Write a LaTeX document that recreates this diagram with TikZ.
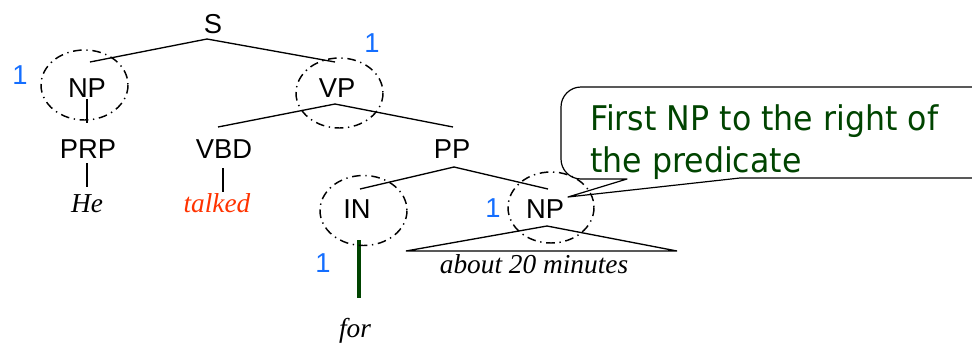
\documentclass[tikz,border=0pt]{standalone}
\usepackage{fontspec}
\setmainfont{Liberation Serif}
\setsansfont{Liberation Sans}
\newfontfamily\callfont[FakeStretch=0.93]{DejaVu Sans}
\usetikzlibrary{calc}
\definecolor{oneblue}{RGB}{20,110,255}
\definecolor{wordred}{RGB}{255,51,0}
\definecolor{callgreen}{RGB}{0,68,0}
\tikzset{
  lab/.style={font=\sffamily\fontsize{20.5pt}{24pt}\selectfont, inner sep=0pt, anchor=base},
  word/.style={font=\rmfamily\itshape\fontsize{20.5pt}{24pt}\selectfont, inner sep=0pt, anchor=base},
  one/.style={font=\sffamily\fontsize{20.5pt}{24pt}\selectfont, text=oneblue, inner sep=0pt, anchor=base},
  br/.style={line width=1pt, black},
  dd/.style={line width=1.1pt, dash pattern=on 6.5pt off 3.5pt on 1pt off 3.5pt},
}
\begin{document}
\begin{tikzpicture}[x=0.75pt,y=-0.75pt]
\useasboundingbox (0,0) rectangle (972,344);
% labels
\node[lab] (S) at (213,33) {S};
\node[lab] (NPa) at (87,97) {NP};
\node[lab] (VP) at (337,97) {VP};
\node[lab] (PRP) at (88,158) {PRP};
\node[lab] (VBD) at (224,158) {VBD};
\node[lab] (PP) at (452,158) {PP};
\node[lab] (IN) at (357,218) {IN};
\node[lab] (NPb) at (545,218) {NP};
% words
\node[word] (he) at (87,212) {He};
\node[word, text=wordred] (talked) at (217,212) {talked};
\node[word] (for) at (355,337) {for};
\node[word] (about) at (534,273) {about 20 minutes};
% blue ones
\node[one] (oa) at (20,84) {1};
\node[one] (ob) at (372,52) {1};
\node[one] (oc) at (323,272) {1};
\node[one] (od) at (493,217) {1};
% edges
\draw[br] ($(S.base)+(-6,6)$) -- ($(NPa.base)+(3,-35)$);
\draw[br] ($(S.base)+(-6,6)$) -- ($(VP.base)+(-2,-35)$);
\draw[br] ($(NPa.base)+(0,2)$) -- ($(PRP.base)+(-1,-35)$);
\draw[br] ($(VP.base)+(-2,7)$) -- ($(VBD.base)+(-6,-31)$);
\draw[br] ($(VP.base)+(-2,7)$) -- ($(PP.base)+(1,-31)$);
\draw[br] ($(PRP.base)+(-1,5)$) -- ($(he.base)+(0,-25)$);
\draw[br] ($(VBD.base)+(-1,10)$) -- ($(talked.base)+(6,-20)$);
\draw[br] ($(PP.base)+(2,9)$) -- ($(IN.base)+(3,-29)$);
\draw[br] ($(PP.base)+(2,9)$) -- ($(NPb.base)+(3,-29)$);
\draw[line width=2.4pt, callgreen] ($(IN.base)+(2,22)$) -- ($(for.base)+(4,-39)$);
\draw[br] ($(NPb.base)+(2,8)$) -- ($(about.base)+(-128,-22)$) -- ($(about.base)+(143,-22)$) -- cycle;
% dash-dot ellipses
\draw[dd] ($(NPa.base)+(-2.5,-12)$) ellipse [x radius=43.5, y radius=35];
\draw[dd] ($(VP.base)+(2.5,-4)$) ellipse [x radius=43.5, y radius=35];
\draw[dd] ($(IN.base)+(6.5,-7.5)$) ellipse [x radius=43.5, y radius=35];
\draw[dd] ($(NPb.base)+(6,-10.5)$) ellipse [x radius=43, y radius=35.5];
% callout
\coordinate (tip) at ($(NPb.base)+(23,-21)$);
\draw[line width=0.9pt, line join=round] (740,178) -- (tip) -- (627,179) [rounded corners=15pt] -- (561,179) -- (561,87) -- (992,87) -- (992,178) -- (740,178);
\node[font=\callfont\fontsize{25.5pt}{31.5pt}\selectfont, text=callgreen, align=left, inner sep=0pt, anchor=north west] (call) at (590,104) {First NP to the right of\\the predicate};
\end{tikzpicture}
\end{document}
